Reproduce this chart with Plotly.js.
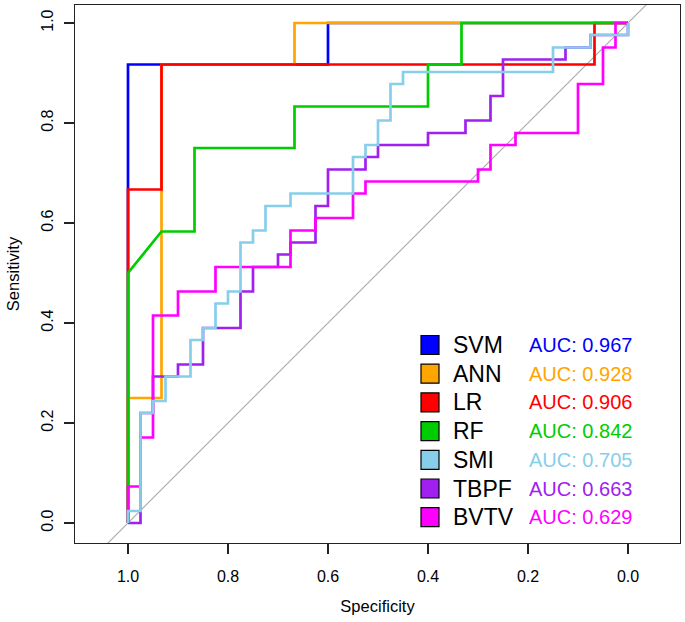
<!DOCTYPE html>
<html><head><meta charset="utf-8">
<script src="https://cdn.plot.ly/plotly-3.0.1.min.js"></script>
<style>html,body{margin:0;padding:0;background:#fff}#chart{width:685px;height:622px}</style>
</head><body><div id="chart"></div>
<script>
// ---- data ----
const models = ['SVM', 'ANN', 'LR', 'RF', 'SMI', 'TBPF', 'BVTV'];
const colors = ['#0000FF', '#FFA500', '#FF0000', '#00CD00', '#87CEEB', '#A020F0', '#FF00FF'];
const aucLabels = ['AUC: 0.967', 'AUC: 0.928', 'AUC: 0.906', 'AUC: 0.842', 'AUC: 0.705', 'AUC: 0.663', 'AUC: 0.629'];
const drawOrder = ['SVM', 'ANN', 'LR', 'RF', 'TBPF', 'BVTV', 'SMI'];

const svmSpec = [1, 1, 0.933, 0.6, 0.6, 0];
const svmSens = [0, 0.917, 0.917, 0.917, 1, 1];

const annSpec = [1, 1, 0.933, 0.933, 0.667, 0.667, 0];
const annSens = [0, 0.25, 0.25, 0.917, 0.917, 1, 1];

const lrSpec = [1, 1, 0.933, 0.933, 0.067, 0.067, 0];
const lrSens = [0, 0.667, 0.667, 0.917, 0.917, 1, 1];

const rfSpec = [1, 1, 0.933, 0.867, 0.867, 0.667, 0.667, 0.4, 0.4, 0.333, 0.333, 0];
const rfSens = [0, 0.5, 0.583, 0.583, 0.75, 0.75, 0.833, 0.833, 0.917, 0.917, 1, 1];

const smiSpec = [1, 1, 0.975, 0.975, 0.95, 0.95, 0.925, 0.925, 0.875, 0.875, 0.85, 0.85, 0.825, 0.825, 0.8, 0.8, 0.775, 0.775, 0.75, 0.75, 0.725, 0.725, 0.675, 0.675, 0.55, 0.55, 0.525, 0.525, 0.5, 0.5, 0.475, 0.475, 0.45, 0.45, 0.15, 0.15, 0.075, 0.075, 0, 0];
const smiSens = [0, 0.024, 0.024, 0.22, 0.22, 0.244, 0.244, 0.293, 0.293, 0.366, 0.366, 0.39, 0.39, 0.439, 0.439, 0.463, 0.463, 0.561, 0.561, 0.585, 0.585, 0.634, 0.634, 0.659, 0.659, 0.732, 0.732, 0.756, 0.756, 0.805, 0.805, 0.878, 0.878, 0.902, 0.902, 0.951, 0.951, 0.976, 0.976, 1];

const tbpfSpec = [1, 0.975, 0.975, 0.95, 0.95, 0.925, 0.9, 0.9, 0.85, 0.85, 0.85, 0.775, 0.775, 0.75, 0.75, 0.7, 0.7, 0.675, 0.675, 0.625, 0.625, 0.6, 0.6, 0.525, 0.525, 0.5, 0.5, 0.4, 0.4, 0.325, 0.325, 0.275, 0.275, 0.25, 0.25, 0.125, 0.125, 0.075, 0.075, 0, 0];
const tbpfSens = [0, 0, 0.22, 0.22, 0.293, 0.293, 0.293, 0.317, 0.317, 0.366, 0.39, 0.39, 0.463, 0.463, 0.512, 0.512, 0.537, 0.537, 0.561, 0.561, 0.634, 0.634, 0.707, 0.707, 0.732, 0.732, 0.756, 0.756, 0.78, 0.78, 0.805, 0.805, 0.854, 0.854, 0.927, 0.927, 0.951, 0.951, 0.976, 0.976, 1];

const bvtvSpec = [1, 1, 0.975, 0.975, 0.95, 0.95, 0.9, 0.9, 0.825, 0.825, 0.675, 0.675, 0.625, 0.625, 0.55, 0.55, 0.525, 0.525, 0.3, 0.3, 0.275, 0.275, 0.225, 0.225, 0.1, 0.1, 0.05, 0.05, 0.025, 0.025, 0];
const bvtvSens = [0, 0.073, 0.073, 0.171, 0.171, 0.415, 0.415, 0.463, 0.463, 0.512, 0.512, 0.585, 0.585, 0.61, 0.61, 0.659, 0.659, 0.683, 0.683, 0.707, 0.707, 0.756, 0.756, 0.78, 0.78, 0.878, 0.878, 0.951, 0.951, 1, 1];

const diagSpec = [1.3, -0.3];
const diagSens = [-0.3, 1.3];

const tickVals = [0, 0.2, 0.4, 0.6, 0.8, 1.0];
const tickText = ['0.0', '0.2', '0.4', '0.6', '0.8', '1.0'];

const curves = {
  SVM: [svmSpec, svmSens], ANN: [annSpec, annSens], LR: [lrSpec, lrSens], RF: [rfSpec, rfSens],
  SMI: [smiSpec, smiSens], TBPF: [tbpfSpec, tbpfSens], BVTV: [bvtvSpec, bvtvSens]
};

// ---- figure ----
const FONT = 'Liberation Sans, Arial, Helvetica, sans-serif';
const W = 685, H = 622, ML = 75, MR = 5, MT = 5, MB = 79;
const PW = W - ML - MR, PH = H - MT - MB;
const px2x = p => (p - ML) / PW;
const px2y = p => (H - MB - p) / PH;

const traces = [{
  x: diagSpec, y: diagSens, mode: 'lines', line: {color: '#A8A8A8', width: 1.1}, hoverinfo: 'skip', showlegend: false
}];
drawOrder.forEach(m => {
  const i = models.indexOf(m);
  traces.push({
    x: curves[m][0], y: curves[m][1], mode: 'lines', name: m,
    line: {color: colors[i], width: 2.7, shape: 'linear'}, showlegend: false
  });
});

const shapes = [];
const annotations = [];
models.forEach((m, i) => {
  const cy = 345 + i * 28.7;
  shapes.push({
    type: 'rect', xref: 'paper', yref: 'paper',
    x0: px2x(421), x1: px2x(439), y0: px2y(cy + 9.5), y1: px2y(cy - 9.5),
    fillcolor: colors[i], line: {color: '#000', width: 1.2}
  });
  annotations.push({
    xref: 'paper', yref: 'paper', x: px2x(451), y: px2y(cy), xanchor: 'left', yanchor: 'middle',
    text: m, showarrow: false, font: {family: FONT, size: 23, color: '#000'}
  });
  annotations.push({
    xref: 'paper', yref: 'paper', x: px2x(527), y: px2y(cy), xanchor: 'left', yanchor: 'middle',
    text: aucLabels[i], showarrow: false, font: {family: FONT, size: 20, color: colors[i]}
  });
});

const axisCommon = {
  showgrid: false, zeroline: false, showline: true, mirror: true, linecolor: '#222', linewidth: 1.2,
  ticks: 'outside', ticklen: 10, tickwidth: 1.2, tickcolor: '#222',
  tickvals: tickVals, ticktext: tickText, tickfont: {family: FONT, size: 16, color: '#000'}
};

const layout = {
  width: W, height: H, margin: {l: ML, r: MR, t: MT, b: MB},
  paper_bgcolor: '#fff', plot_bgcolor: '#fff', showlegend: false,
  xaxis: Object.assign({}, axisCommon, {
    range: [1.106, -0.104], autorange: false, ticklabelstandoff: 9,
    title: {text: 'Specificity', font: {family: FONT, size: 16.5, color: '#000'}, standoff: 16}
  }),
  yaxis: Object.assign({}, axisCommon, {
    range: [-0.04, 1.036], autorange: false, tickangle: -90, ticklabelstandoff: 4,
    title: {text: 'Sensitivity', font: {family: FONT, size: 16.5, color: '#000'}, standoff: 15}
  }),
  shapes: shapes, annotations: annotations
};

Plotly.newPlot('chart', traces, layout, {staticPlot: true, displayModeBar: false});
</script></body></html>
